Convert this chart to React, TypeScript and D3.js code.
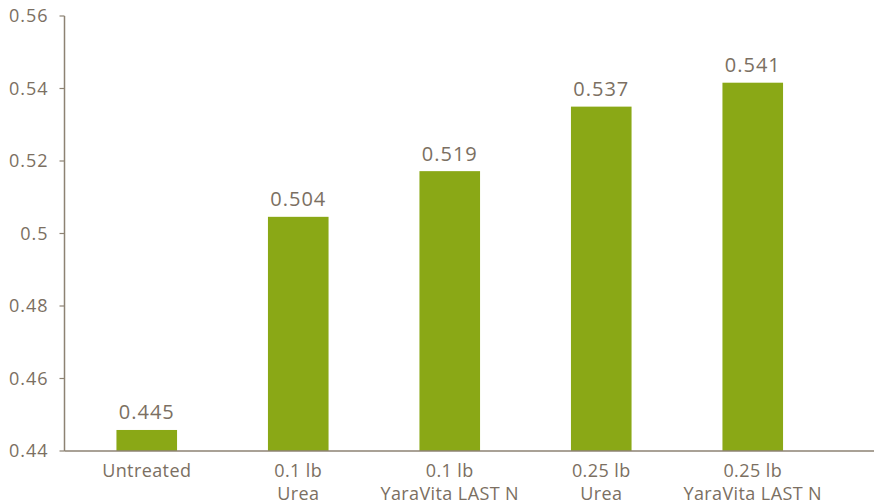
import { useEffect, useRef } from 'react'
import * as d3 from 'd3'

const categories = [
  ['Untreated'],
  ['0.1 lb', 'Urea'],
  ['0.1 lb', 'YaraVita LAST N'],
  ['0.25 lb', 'Urea'],
  ['0.25 lb', 'YaraVita LAST N'],
]
const barValues = [0.4458, 0.5046, 0.5172, 0.535, 0.5416]
const valueLabels = ['0.445', '0.504', '0.519', '0.537', '0.541']
const yTicks = [0.44, 0.46, 0.48, 0.5, 0.52, 0.54, 0.56]
const yTickLabels = ['0.44', '0.46', '0.48', '0.5', '0.52', '0.54', '0.56']

const GREEN = '#8aa816'
const TEXT = '#7b6f62'
const AXIS = '#8d8273'
const FONT = '"Open Sans", sans-serif'

export default function App() {
  const svgRef = useRef<SVGSVGElement>(null)

  useEffect(() => {
    if (!svgRef.current) return
    const svg = d3.select(svgRef.current)
    svg.selectAll('*').remove()

    const width = 876
    const height = 502
    const axisX = 64.5
    const axisRight = 874

    const x = d3.scaleBand<number>()
      .domain(d3.range(categories.length))
      .range([71, 828.5])
      .paddingInner(0.6)
      .paddingOuter(0.3)

    const y = d3.scaleLinear()
      .domain([0.44, 0.56])
      .range([451, 16])

    svg.attr('width', width).attr('height', height)

    // Bars
    svg.append('g')
      .selectAll('rect')
      .data(barValues)
      .join('rect')
      .attr('x', (_, i) => x(i)!)
      .attr('width', x.bandwidth())
      .attr('y', d => y(d))
      .attr('height', d => y(0.44) - y(d))
      .attr('fill', GREEN)

    // Value labels
    svg.append('g')
      .selectAll('text')
      .data(barValues)
      .join('text')
      .attr('x', (_, i) => x(i)! + x.bandwidth() / 2)
      .attr('y', d => y(d) - 10.5)
      .attr('text-anchor', 'middle')
      .attr('font-family', FONT)
      .attr('font-size', 20)
      .attr('letter-spacing', 1)
      .attr('fill', TEXT)
      .text((_, i) => valueLabels[i])

    // Y axis
    const yAxis = svg.append('g')
    yAxis.append('line')
      .attr('x1', axisX).attr('x2', axisX)
      .attr('y1', y(0.56)).attr('y2', y(0.44))
      .attr('stroke', AXIS).attr('stroke-width', 1.5)
    const ticks = yAxis.selectAll('g.tick')
      .data(yTicks)
      .join('g')
      .attr('class', 'tick')
      .attr('transform', d => `translate(0,${y(d)})`)
    ticks.append('line')
      .attr('x1', axisX - 5).attr('x2', axisX)
      .attr('stroke', AXIS).attr('stroke-width', 1.2)
    ticks.append('text')
      .attr('x', 48.5)
      .attr('dy', '0.36em')
      .attr('text-anchor', 'end')
      .attr('font-family', FONT)
      .attr('font-size', 18)
      .attr('letter-spacing', 1)
      .attr('fill', TEXT)
      .text((_, i) => yTickLabels[i])

    // X axis
    svg.append('line')
      .attr('x1', axisX).attr('x2', axisRight)
      .attr('y1', y(0.44)).attr('y2', y(0.44))
      .attr('stroke', AXIS).attr('stroke-width', 1.5)

    const cat = svg.append('g')
      .selectAll('text')
      .data(categories)
      .join('text')
      .attr('x', (_, i) => x(i)! + x.bandwidth() / 2)
      .attr('y', 476.5)
      .attr('text-anchor', 'middle')
      .attr('font-family', FONT)
      .attr('font-size', 18)
      .attr('letter-spacing', 0.4)
      .attr('fill', TEXT)
    cat.selectAll('tspan')
      .data(d => d)
      .join('tspan')
      .attr('x', function () {
        return (this.parentNode as SVGTextElement).getAttribute('x')
      })
      .attr('dy', (_, j) => (j === 0 ? 0 : 23.5))
      .text(d => d)
  }, [])

  return (
    <div style={{ position: 'absolute', left: 0, top: 0 }}>
      <svg ref={svgRef} style={{ display: 'block' }} />
    </div>
  )
}
